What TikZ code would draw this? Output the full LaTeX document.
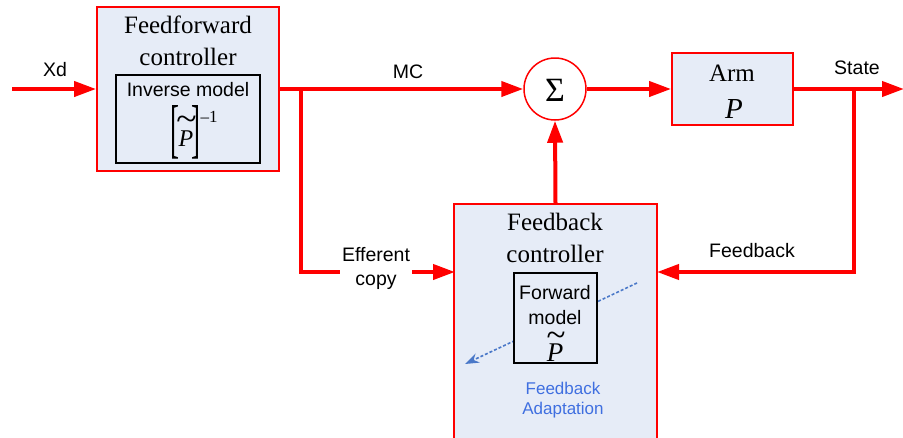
\documentclass[tikz,border=0pt]{standalone}
\usepackage{fontspec}
\usepackage{graphicx}
\setmainfont{Liberation Serif}
\setsansfont{Liberation Sans}
\usetikzlibrary{arrows.meta,calc}
\definecolor{boxfill}{HTML}{E6ECF7}
\definecolor{adapt}{HTML}{3F6FE0}
\definecolor{dashblue}{HTML}{4A78C8}
\tikzset{
  redbox/.style={draw=red,line width=1.8pt,fill=boxfill,inner sep=0pt},
  blackbox/.style={draw=black,line width=1.6pt,fill=boxfill,inner sep=0pt},
  sig/.style={draw=red,line width=4pt,-{Triangle[length=22pt,width=15pt]}},
  wire/.style={draw=red,line width=4pt},
  serif/.style={font=\fontsize{25}{28}\selectfont,inner sep=0pt},
  lab/.style={font=\sffamily\fontsize{19.5}{22}\selectfont,inner sep=0pt},
  adlab/.style={font=\sffamily\fontsize{17}{20}\selectfont,text=adapt,inner sep=0pt},
  tld/.style={inner sep=0pt,font=\fontsize{25}{28}\selectfont},
}
\begin{document}
\begin{tikzpicture}[x=1pt,y=-1pt]
\useasboundingbox (0,0) rectangle (903,437);
\clip (0,0) rectangle (903,437);
% boxes
\node[redbox,minimum width=182pt,minimum height=164pt] (ff) at (188,89) {};
\node[blackbox,minimum width=144pt,minimum height=88pt] (inv) at (188,119) {};
\node[draw=red,line width=1.5pt,fill=white,circle,minimum size=62pt,inner sep=0pt] (sum) at (555,89) {};
\node[redbox,minimum width=121pt,minimum height=72pt] (arm) at (732.5,89) {};
\node[redbox,minimum width=203pt,minimum height=240pt] (fb) at (555.5,324) {};
% dashed adaptation arrow (behind inner box)
\coordinate (dA) at (637,283);
\coordinate (dB) at (465,364);
\draw[dashblue,line width=1.6pt,densely dashed,-{Stealth[length=14pt,width=10pt]}] (dA) -- (dB);
\node[blackbox,minimum width=83pt,minimum height=90pt] (fwd) at (555.5,318) {};
% connectors
\coordinate (xin) at (12,89);
\coordinate (br1) at (301,89);
\coordinate (br2) at (854,89);
\coordinate (out) at (904,89);
\coordinate (fbL) at (455,272);
\coordinate (fbR) at (657,272);
\draw[sig] (xin) -- (ff.west);
\draw[sig] (ff.east) -- (sum.west);
\draw[wire] (br1) -- (br1 |- fbL);
\draw[sig] ($(br1 |- fbL)+(-2,0)$) -- (fbL);
\draw[sig] (sum.east) -- (arm.west);
\draw[sig] (arm.east) -- (out);
\draw[wire] (br2) -- (br2 |- fbR);
\draw[sig] ($(br2 |- fbR)+(2,0)$) -- (fbR);
\draw[sig] (fb.north) -- (sum.south);
% texts
\node[serif] (t1) at (188,25) {Feedforward};
\node[serif] (t2) at (188,57) {controller};
\node[lab] (t3) at (188,90) {Inverse model};
\node[tld] (lbr) at (175,132.5) {\resizebox{9pt}{45pt}{[}};
\node[tld,font=\fontsize{24}{28}\selectfont\itshape] (ip) at (186,139) {P};
\node[tld] (itl) at (186.5,123) {\scalebox{1.5}[1.4]{\textasciitilde}};
\node[tld] (rbr) at (196,132.5) {\resizebox{9pt}{45pt}{]}};
\node[tld,font=\fontsize{17}{20}\selectfont] (exp) at (209,117) {–1};
\node[inner sep=0pt,font=\fontsize{34}{36}\selectfont] (sg) at (555,90) {Σ};
\node[serif] (t5) at (732,73) {Arm};
\node[serif,font=\fontsize{29}{32}\selectfont\itshape] (t6) at (734,109) {P};
\node[serif] (t7) at (555,222) {Feedback};
\node[serif] (t8) at (555,254) {controller};
\node[lab] (t9) at (555,293) {Forward};
\node[lab] (t10) at (555,318) {model};
\node[tld,font=\fontsize{27}{30}\selectfont\itshape] (t11) at (555,353) {P};
\node[tld] (t11t) at (556,339.5) {\scalebox{1.4}[1.4]{\textasciitilde}};
\node[adlab] (t12) at (563,388) {Feedback};
\node[adlab] (t13) at (563,410) {Adaptation};
\node[lab] (xd) at (55,70) {Xd};
\node[lab] (mc) at (408,72) {MC};
\node[lab] (st) at (857,68) {State};
\node[lab,fill=white,align=center,inner xsep=2pt,inner ysep=1pt,
  font=\sffamily\fontsize{19.5}{24}\selectfont] (ef) at (376,268) {Efferent\\copy};
\node[lab] (fbl) at (752,251) {Feedback};
\end{tikzpicture}
\end{document}
